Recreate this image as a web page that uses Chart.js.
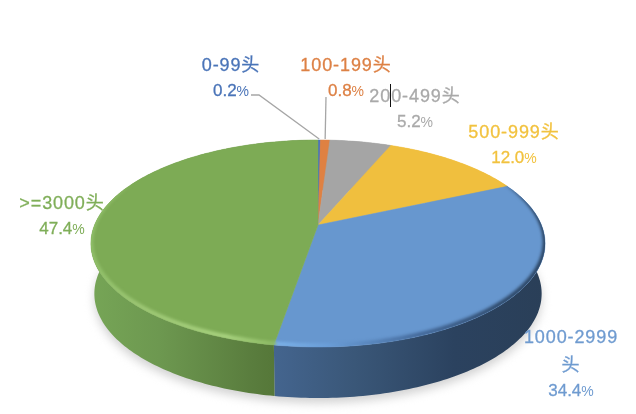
<!DOCTYPE html>
<html>
<head>
<meta charset="utf-8">
<title>pie</title>
<script src="https://cdn.jsdelivr.net/npm/chart.js@4/dist/chart.umd.js"></script>
<style>
    html, body { margin: 0; padding: 0; background: #fff; }
    canvas { display: block; }
</style>
</head>
<body>
<canvas id="chart" width="636" height="414"></canvas>
<script>
const categories = ['0-99头', '100-199头', '200-499头', '500-999头', '1000-2999头', '>=3000头'];
const shares = [0.2, 0.8, 5.2, 12.0, 34.4, 47.4];
const sliceColors = ['#4472c4', '#df8142', '#a5a5a5', '#f0bf3e', '#6797cf', '#7dab55'];
const labelColors = ['#4a74b8', '#dd8145', '#a9a9a9', '#f2c23f', '#6f9bd0', '#7fae58'];

// where each label sits: centre x, first baseline, and optional line break
const labelSpots = [
    { x: 231, y: 71 },
    { x: 346, y: 71 },
    { x: 415, y: 102 },
    { x: 514, y: 138 },
    { x: 571, y: 343, lines: ['1000-2999', '头'] },
    { x: 62, y: 209 }
];

// the pie is seen in perspective, so the slices meet above the middle of the ellipse
const view = { cx: 318, cy: 225, c: 223.4, b: 60, k: -0.1787 };
const wall = { depth: 49, flare: 2, shrink: 0.985 };

function project(angle) {
    const w = 1 + view.k * Math.sin(angle);
    return {
        x: view.cx + view.c * Math.cos(angle) / w,
        y: (view.cy + view.b * Math.sin(angle)) / w
    };
}

function projectBase(angle) {
    const p = project(angle);
    return {
        x: view.cx + (p.x - view.cx) * wall.shrink,
        y: p.y + wall.depth + wall.flare * (Math.sin(angle) + 1) / 2
    };
}

function anglesBetween(start, end) {
    const steps = Math.max(2, Math.ceil((end - start) * 60));
    const out = [];
    for (let i = 0; i <= steps; i++) {
        out.push(start + (end - start) * i / steps);
    }
    return out;
}

// Top face of a slice, same data as a normal arc but run through the projection
class Arc3d extends Chart.ArcElement {
    draw(ctx) {
        const color = this.options.backgroundColor;
        ctx.save();
        ctx.beginPath();
        ctx.moveTo(view.cx, view.cy);
        anglesBetween(this.startAngle, this.endAngle).forEach(a => {
            const p = project(a);
            ctx.lineTo(p.x, p.y);
        });
        ctx.closePath();
        ctx.fillStyle = color;
        ctx.strokeStyle = color;
        ctx.lineWidth = 0.5;
        ctx.fill();
        ctx.stroke();
        ctx.restore();
    }
}
Arc3d.id = 'arc3d';
Arc3d.defaults = { ...Chart.ArcElement.defaults };
Arc3d.defaultRoutes = Chart.ArcElement.defaultRoutes;

class Pie3dController extends Chart.PieController {}
Pie3dController.id = 'pie3d';
Pie3dController.defaults = { dataElementType: 'arc3d' };

Chart.register(Arc3d, Pie3dController);

function traceRing(ctx, fn) {
    ctx.beginPath();
    anglesBetween(0, Math.PI * 2).forEach((a, i) => {
        const p = fn(a);
        if (i === 0) ctx.moveTo(p.x, p.y);
        else ctx.lineTo(p.x, p.y);
    });
    ctx.closePath();
}

function horizontalGradient(ctx, stops) {
    const g = ctx.createLinearGradient(91, 0, 545, 0);
    stops.forEach(s => g.addColorStop(s[0], s[1]));
    return g;
}

const wallStops = {
    4: [[0.4, '#44658f'], [0.58, '#3a5778'], [0.8, '#2b425f'], [1, '#2a3f58']],
    5: [[0, '#76a556'], [0.15, '#6d9850'], [0.36, '#597c3d'], [0.4, '#567839']]
};
const rimStops = {
    4: [[0.4, '#7db3ea'], [0.52, '#6a9ed8'], [0.72, '#44699a'], [0.9, '#2f4a6b'], [1, '#2c4563']],
    5: [[0, '#8fbe68'], [0.1, '#9cc674'], [0.3, '#a8d27f'], [0.4, '#8ebb66']]
};

const pie3dBody = {
    id: 'pie3dBody',
    beforeDatasetsDraw(chart) {
        const ctx = chart.ctx;
        const arcs = chart.getDatasetMeta(0).data;

        // soft ground shadow
        ctx.save();
        ctx.filter = 'blur(5px)';
        ctx.fillStyle = '#d2d2d2';
        traceRing(ctx, a => {
            const p = projectBase(a);
            return { x: p.x, y: p.y + 5 };
        });
        ctx.fill();
        ctx.restore();

        // side wall, only the two front slices ever show
        arcs.forEach((arc, i) => {
            ctx.save();
            const angles = anglesBetween(arc.startAngle, arc.endAngle);
            ctx.beginPath();
            angles.forEach((a, n) => {
                const p = project(a);
                if (n === 0) ctx.moveTo(p.x, p.y);
                else ctx.lineTo(p.x, p.y);
            });
            angles.slice().reverse().forEach(a => {
                const p = projectBase(a);
                ctx.lineTo(p.x, p.y);
            });
            ctx.closePath();
            ctx.fillStyle = wallStops[i] ? horizontalGradient(ctx, wallStops[i]) : sliceColors[i];
            ctx.fill();
            ctx.restore();
        });
    },
    afterDatasetsDraw(chart) {
        const ctx = chart.ctx;
        const arcs = chart.getDatasetMeta(0).data;

        // bevel along the front rim: painted on a scratch canvas so it can fade
        // out towards the back, then blurred back on inside the pie outline
        const scratch = document.createElement('canvas');
        scratch.width = chart.width;
        scratch.height = chart.height;
        const sc = scratch.getContext('2d');
        sc.lineWidth = 4.5;
        sc.lineCap = 'round';
        arcs.forEach((arc, i) => {
            if (!rimStops[i]) return;
            sc.strokeStyle = horizontalGradient(sc, rimStops[i]);
            const angles = anglesBetween(arc.startAngle, arc.endAngle);
            for (let n = 1; n < angles.length; n++) {
                const fade = (Math.sin(angles[n]) + 0.45) / 0.45;
                if (fade <= 0) continue;
                sc.globalAlpha = Math.min(1, fade);
                const a = project(angles[n - 1]);
                const b = project(angles[n]);
                sc.beginPath();
                sc.moveTo(a.x, a.y - 1.5);
                sc.lineTo(b.x, b.y - 1.5);
                sc.stroke();
            }
        });

        ctx.save();
        traceRing(ctx, project);
        ctx.rect(0, 0, 0, 0);
        ctx.clip();
        ctx.filter = 'blur(1.8px)';
        ctx.drawImage(scratch, 0, 0);
        ctx.restore();
    },
    afterDraw(chart) {
        const ctx = chart.ctx;
        const arcs = chart.getDatasetMeta(0).data;

        // leader lines for the two thin slices
        const leaders = [
            [{ x: 251, y: 95 }, { x: 259, y: 95 }],
            [{ x: 326, y: 97 }]
        ];
        ctx.save();
        ctx.strokeStyle = '#a6a6a6';
        ctx.lineWidth = 1.3;
        leaders.forEach((pts, i) => {
            const mid = (arcs[i].startAngle + arcs[i].endAngle) / 2;
            const end = project(mid);
            ctx.beginPath();
            pts.forEach((p, n) => {
                if (n === 0) ctx.moveTo(p.x, p.y);
                else ctx.lineTo(p.x, p.y);
            });
            ctx.lineTo(end.x, end.y - 1);
            ctx.stroke();
        });
        ctx.restore();

        // labels
        ctx.save();
        ctx.textBaseline = 'alphabetic';
        ctx.lineWidth = 0.3;
        categories.forEach((name, i) => {
            const spot = labelSpots[i];
            const lines = spot.lines || [name];
            ctx.fillStyle = labelColors[i];
            ctx.strokeStyle = labelColors[i];
            ctx.font = '18px "Liberation Sans", "Noto Sans CJK SC", sans-serif';
            ctx.letterSpacing = '0.9px';
            ctx.textAlign = 'center';
            let y = spot.y;
            lines.forEach((line, n) => {
                ctx.fillText(line, spot.x, y);
                ctx.strokeText(line, spot.x, y);
                y += n < lines.length - 1 ? 28 : 25;
            });
            const num = shares[i].toFixed(1);
            ctx.letterSpacing = '0px';
            ctx.font = '17px "Liberation Sans", sans-serif';
            const numWidth = ctx.measureText(num).width;
            ctx.font = '14px "Liberation Sans Narrow", "Liberation Sans", sans-serif';
            const pctWidth = ctx.measureText('%').width;
            const left = spot.x - (numWidth + pctWidth) / 2;
            ctx.textAlign = 'left';
            ctx.fillText('%', left + numWidth, y);
            ctx.font = '17px "Liberation Sans", sans-serif';
            ctx.fillText(num, left, y);
            ctx.strokeText(num, left, y);
        });
        ctx.restore();

        // text cursor left in the 200-499 label
        ctx.save();
        ctx.fillStyle = '#111';
        ctx.fillRect(390, 84, 1, 23);
        ctx.restore();
    }
};

new Chart(document.getElementById('chart'), {
    type: 'pie3d',
    data: {
        labels: categories,
        datasets: [{
            data: shares,
            backgroundColor: sliceColors,
            borderWidth: 0
        }]
    },
    options: {
        responsive: false,
        animation: false,
        events: [],
        plugins: {
            legend: { display: false },
            tooltip: { enabled: false }
        }
    },
    plugins: [pie3dBody]
});
</script>
</body>
</html>
